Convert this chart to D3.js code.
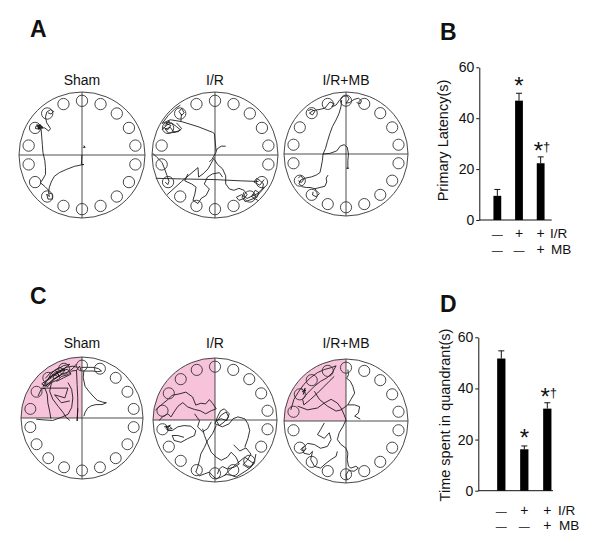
<!DOCTYPE html>
<html><head><meta charset="utf-8">
<script src="https://cdn.jsdelivr.net/npm/d3@7"></script>
<style>body{margin:0;background:#fff}svg{display:block}text{font-family:"Liberation Sans",Arial,sans-serif;fill:#111}</style>
</head><body><svg id="c" width="600" height="544"></svg>
<script>
// ---------- data ----------
const groups = ["Sham", "I/R", "I/R+MB"];
const latency = [9.5, 46.9, 22.3];
const latencyErr = [2.5, 2.9, 2.5];
const quadTime = [51.7, 16.2, 32.1];
const quadErr = [3.0, 1.3, 2.3];
const yTicks = [0, 20, 40, 60];
const irRow = ["\u2014", "+", "+"];
const mbRow = ["\u2014", "\u2014", "+"];
const starMark = ["", "*", "*"];
const daggerMark = ["", "", "\u2020"];
const holeAngles = [0, 20, 40, 60, 80, 100, 120, 140, 160, 180, 200, 220, 240, 260, 280, 300, 320, 340];

// trajectories, maze units (-100..100, y downward)
const shamA = [
  [[0,0],[-1,15],[3,15],[-2,16],[-12,18],[-25,23],[-36,28],[-44,34],[-49,43],[-52,52],[-53,59],[-52,66],[-56,62],[-54,70],[-47,70],[-47,62],[-53,60]],
  [[-52,57],[-59,50],[-66,44],[-62,38],[-58,31],[-58,20],[-59,9],[-62,-4],[-63,-17],[-64,-30],[-65,-41],[-67,-46],[-73,-46],[-74,-42],[-67,-41],[-72,-48],[-65,-47],[-62,-43],[-70,-43],[-59,-43],[-53,-38],[-50,-42],[-56,-51],[-58,-60],[-56,-68],[-50,-72],[-45,-69],[-49,-65],[-54,-67]],
  [[-71,-44],[-66,-48],[-69,-41],[-63,-45],[-70,-47]],
  [[4,-14],[2,-12],[5,-12],[3,-15]]
];
const irA = [
  [[-84,-50],[-71,-56],[-53,-53],[-27,-45],[-4,-36],[-1,-34],[0,-24],[1,-14],[2,-5],[-2,2],[-5,7],[-9,11]],
  [[1,-6],[5,-11],[10,-14],[17,-14]],
  [[-53,-65],[-54,-58],[-54,-53]],
  [[-57,-69],[-53,-74],[-49,-67],[-53,-63],[-57,-69]],
  [[-84,-40],[-76,-48],[-69,-51],[-61,-45],[-55,-40],[-63,-36],[-74,-35],[-79,-41],[-71,-44],[-66,-37],[-58,-37],[-53,-42],[-61,-51]],
  [[-82,-44],[-75,-40],[-70,-47],[-78,-50],[-72,-54],[-80,-46]],
  [[-84,-50],[-74,-63],[-63,-74],[-55,-79]],
  [[-99,-3],[-92,4],[-84,12],[-80,22],[-76,33],[-73,42],[-75,47],[-79,43]],
  [[-94,37],[-53,38],[-1,39],[41,41],[69,42]],
  [[-76,63],[-53,42],[-27,20],[-26,35],[-19,30],[-11,22],[-6,13],[-1,4]],
  [[-1,7],[4,15],[12,22],[17,33],[17,46],[23,54],[30,56],[38,53],[46,56],[51,63],[46,69],[38,72],[34,67],[42,63],[51,69],[59,65],[68,61],[75,54],[77,46],[72,41],[66,37],[62,43],[71,48],[78,39]],
  [[-43,30],[-48,41],[-37,46],[-30,51],[-32,62],[-35,72],[-27,77],[-22,69],[-14,64],[-9,54],[-17,46],[-12,35],[-4,30],[7,28],[12,35]],
  [[46,59],[43,67],[48,74],[62,69],[72,59],[79,51]],
  [[60,62],[66,68],[70,60],[64,56],[58,66],[68,72]]
];
const irmbA = [
  [[-61,-70],[-56,-72],[-50,-69],[-54,-63],[-59,-66],[-53,-70],[-42,-72],[-34,-74],[-30,-79],[-26,-84],[-19,-81],[-23,-76],[-16,-79],[-11,-86],[-4,-93],[2,-94],[5,-89],[0,-82],[6,-83],[13,-88],[20,-90],[25,-86],[23,-81],[17,-83]],
  [[-7,-87],[-8,-77],[-11,-66],[-16,-55],[-22,-44],[-26,-33],[-30,-20],[-33,-9],[-37,0],[-38,10],[-40,21],[-42,30],[-48,34],[-56,37],[-66,39],[-73,42],[-76,48],[-70,53],[-64,54],[-58,54],[-50,56],[-42,54],[-34,52],[-31,45],[-32,39],[-29,34]],
  [[-53,61],[-54,66],[-48,69],[-43,64],[-48,59],[-50,56]],
  [[-77,39],[-73,35],[-68,41],[-72,46],[-77,43]],
  [[-37,0],[-26,-1],[-15,-5],[-9,-13],[-3,-15],[2,-11],[4,0],[3,10],[3,23],[1,23],[5,23]]
];
const shamC = [
  [[-7,-83],[-15,-85],[-26,-83],[-34,-77],[-42,-72],[-50,-66],[-58,-61],[-64,-52],[-56,-55],[-48,-63],[-39,-68],[-31,-74],[-28,-79],[-37,-83],[-45,-78],[-51,-72],[-56,-63],[-61,-58],[-57,-51],[-50,-58],[-39,-63],[-34,-68],[-23,-71],[-17,-77],[-9,-78],[-4,-85],[-1,-77]],
  [[-60,-65],[-52,-74],[-40,-80],[-30,-86],[-20,-88],[-28,-82],[-38,-76],[-48,-70],[-58,-62],[-66,-56],[-60,-52],[-50,-60],[-42,-66],[-32,-72],[-22,-76],[-14,-82],[-10,-88]],
  [[-50,-58],[-53,-44],[-48,-31],[-39,-19],[-31,-9],[-26,-1],[-20,4]],
  [[-72,-36],[-67,-47],[-61,-49],[-57,-39],[-56,-25],[-53,-11],[-51,1]],
  [[-75,2],[-64,3],[-48,4],[-34,-1],[-23,-6],[-17,-17],[-15,-33],[-17,-47],[-23,-58]],
  [[-9,-78],[-8,-55],[-7,-33],[-7,-11],[-8,5],[-7,-16]],
  [[-1,-83],[7,-83],[18,-83],[27,-81],[32,-77],[25,-76],[18,-77],[10,-77],[3,-77],[2,-66],[5,-52],[11,-44],[18,-36],[25,-29],[34,-26],[40,-25],[33,-22],[23,-22],[15,-20],[9,-16],[5,-9],[3,-3]],
  [[-67,-49],[-39,-49],[-23,-49],[-28,-33],[-45,-38],[-34,-25],[-20,-28]],
  [[-30,-80],[-44,-75],[-53,-66],[-47,-70],[-36,-76],[-24,-80],[-18,-72],[-30,-66],[-42,-60]],
  [[-46,-72],[-40,-68],[-44,-64],[-38,-70],[-42,-76],[-36,-66]]
];
const irC = [
  [[4,1],[10,-8],[18,-13],[22,-5],[15,3],[7,9],[2,1],[10,-2],[19,1],[23,-10],[15,-18],[9,-15],[4,-5],[0,6],[12,11],[23,6],[29,-2],[37,-5],[48,-2],[53,6],[56,17],[53,30],[48,44]],
  [[-96,-16],[-87,-24],[-76,-33],[-69,-40],[-58,-42],[-47,-45],[-36,-37],[-31,-24],[-23,-27],[-15,-26],[-9,-33],[-4,-27],[2,-18],[-6,-15],[-15,-10],[-24,-15],[-33,-17],[-44,-21],[-52,-28],[-60,-22],[-66,-13],[-71,-5],[-76,-10],[-85,-5],[-90,1]],
  [[-79,9],[-76,17],[-69,17],[-60,11],[-50,9],[-39,10],[-31,17],[-33,25],[-44,30],[-55,36],[-66,33],[-69,25],[-60,25],[-50,28]],
  [[2,9],[-4,22],[-12,33],[-17,44],[-23,55],[-25,65],[-28,76],[-31,84],[-25,90],[-17,87],[-9,84],[-4,90],[2,95],[10,92],[18,88],[26,89],[34,92],[42,87],[50,82],[58,76],[64,65],[66,55]],
  [[-20,14],[-17,25],[-12,38],[-6,52],[2,60],[10,65],[20,60],[26,52],[34,60],[39,71],[31,76],[20,79],[12,75],[7,79],[4,87]],
  [[-33,-10],[-25,1],[-28,11],[-20,19],[-12,14],[-6,3]],
  [[30,40],[40,50],[50,45],[58,55],[52,65],[45,72],[55,78],[62,70],[48,60],[38,68],[30,75],[22,82],[15,90]],
  [[-82,11],[-74,10],[-69,14],[-78,15],[-72,8],[-80,13]]
];
const irmbC = [
  [[-89,-18],[-84,-35],[-76,-48],[-68,-59],[-57,-70],[-46,-78],[-35,-83],[-24,-86],[-16,-89],[-22,-78],[-30,-70],[-41,-64],[-51,-56],[-62,-45],[-70,-35],[-68,-26],[-57,-35],[-46,-45],[-35,-56],[-27,-64],[-19,-72]],
  [[-72,-53],[-68,-48],[-66,-53],[-69,-43],[-65,-50],[-71,-47]],
  [[-78,-24],[-62,-18],[-46,-21],[-35,-29],[-24,-35],[-14,-29],[-8,-21],[-3,-10],[0,-2]],
  [[-51,-48],[-43,-35],[-30,-24],[-16,-16],[-8,-18],[3,-26],[14,-26],[22,-23],[20,-13],[14,-8],[23,-3]],
  [[0,-70],[7,-64],[11,-56],[14,-45],[8,-35],[3,-26]],
  [[3,-83],[4,-75],[2,-70]],
  [[0,-2],[-5,9],[-11,19],[-14,30],[-8,38],[0,44],[3,52],[2,62],[4,73],[8,76],[16,73],[20,76],[13,81],[4,80],[0,87],[2,95]],
  [[-35,3],[-41,14],[-46,22],[-35,28],[-27,19],[-24,30],[-30,41],[-41,44],[-51,38],[-62,36],[-70,44],[-68,52],[-59,54],[-54,49],[-57,62],[-51,73],[-41,76],[-32,68],[-24,62],[-16,57],[-14,49]],
  [[-68,41],[-73,46],[-68,49],[-64,44]]
];

// ---------- drawing ----------
const svg = d3.select("#c");
const holeRing = 86, holeR = 9;

function maze(cx, cy, r, title, titleY, paths, pink) {
  const g = svg.append("g");
  const sx = d3.scaleLinear().domain([-100, 100]).range([cx - r, cx + r]);
  const sy = d3.scaleLinear().domain([-100, 100]).range([cy - r, cy + r]);
  if (pink) {
    g.append("path").attr("transform", `translate(${cx},${cy})`)
      .attr("d", d3.arc()({innerRadius: 0, outerRadius: r, startAngle: -Math.PI / 2, endAngle: 0}))
      .attr("fill", "#f6c3da");
  }
  const line = d3.line().x(d => sx(d[0])).y(d => sy(d[1]));
  paths.forEach(p => g.append("path").attr("d", line(p)).attr("fill", "none")
    .attr("stroke", "#111").attr("stroke-width", 0.85).attr("stroke-linejoin", "round"));
  g.append("line").attr("x1", sx(-100)).attr("x2", sx(100)).attr("y1", sy(0)).attr("y2", sy(0))
    .attr("stroke", "#222").attr("stroke-width", 0.8);
  g.append("line").attr("x1", sx(0)).attr("x2", sx(0)).attr("y1", sy(-100)).attr("y2", sy(100))
    .attr("stroke", "#222").attr("stroke-width", 0.8);
  holeAngles.forEach(a => {
    const t = a * Math.PI / 180;
    g.append("circle").attr("cx", sx(holeRing * Math.sin(t))).attr("cy", sy(-holeRing * Math.cos(t)))
      .attr("r", sx(holeR) - sx(0)).attr("fill", "none").attr("stroke", "#333").attr("stroke-width", 0.9);
  });
  g.append("circle").attr("cx", cx).attr("cy", cy).attr("r", r)
    .attr("fill", "none").attr("stroke", "#333").attr("stroke-width", 0.9);
  svg.append("text").attr("x", cx).attr("y", titleY).attr("text-anchor", "middle")
    .attr("font-size", 14).text(title);
}

const mazeX = [82, 215, 346];
maze(mazeX[0], 155, 63, groups[0], 85, shamA, false);
maze(mazeX[1], 155, 63, groups[1], 85, irA, false);
maze(mazeX[2], 154, 62, groups[2], 85, irmbA, false);
maze(mazeX[0], 418, 61, groups[0], 348, shamC, true);
maze(mazeX[1], 420, 62, groups[1], 348, irC, true);
maze(mazeX[2], 421, 62, groups[2], 348, irmbC, true);

function signSize(s) { return s === "+" ? 14 : 11; }

function barPanel(o) {
  const y = d3.scaleLinear().domain([0, 60]).range([o.y0, o.y60]);
  const x = d3.scaleBand().domain(groups).range(o.xr).paddingInner(0.64).paddingOuter(0.32);
  const bw = x.bandwidth();
  const ax = svg.append("g").attr("transform", `translate(${o.axX},0)`)
    .call(d3.axisLeft(y).tickValues(yTicks).tickSize(3).tickPadding(2).tickSizeOuter(0));
  ax.select(".domain").attr("stroke", "#111").attr("stroke-width", 1);
  ax.selectAll(".tick line").attr("stroke", "#111");
  ax.selectAll(".tick text").attr("font-size", 14).attr("font-family", '"Liberation Sans",Arial,sans-serif').attr("fill", "#111");
  svg.append("line").attr("x1", o.axX).attr("x2", o.axEnd).attr("y1", y(0)).attr("y2", y(0))
    .attr("stroke", "#111").attr("stroke-width", 1);
  groups.forEach((gname, i) => {
    const xc = x(gname) + bw / 2;
    const top = y(o.vals[i] + o.errs[i]);
    svg.append("line").attr("x1", xc).attr("x2", xc).attr("y1", y(o.vals[i])).attr("y2", top)
      .attr("stroke", "#111").attr("stroke-width", 1);
    svg.append("line").attr("x1", xc - 3).attr("x2", xc + 3).attr("y1", top).attr("y2", top)
      .attr("stroke", "#111").attr("stroke-width", 1);
    svg.append("rect").attr("x", x(gname)).attr("width", bw).attr("y", y(o.vals[i]))
      .attr("height", y(0) - y(o.vals[i])).attr("fill", "#000");
    if (starMark[i]) {
      const sxp = daggerMark[i] ? xc - 2.2 : xc;
      svg.append("text").attr("x", sxp).attr("y", top + (daggerMark[i] ? 2 : 0.5)).attr("text-anchor", "middle")
        .attr("font-size", 24).text(starMark[i]);
    }
    if (daggerMark[i]) {
      svg.append("text").attr("x", xc + 6).attr("y", top - 6).attr("text-anchor", "middle")
        .attr("font-size", 13).text(daggerMark[i]);
    }
    svg.append("text").attr("x", xc).attr("y", o.row1).attr("text-anchor", "middle")
      .attr("font-size", signSize(irRow[i])).text(irRow[i]);
    svg.append("text").attr("x", xc).attr("y", o.row2).attr("text-anchor", "middle")
      .attr("font-size", signSize(mbRow[i])).text(mbRow[i]);
  });
  svg.append("text").attr("x", o.lblX).attr("y", o.row1).attr("font-size", 13.5).text("I/R");
  svg.append("text").attr("x", o.lblX + 1).attr("y", o.row2).attr("font-size", 13.5).text("MB");
  svg.append("text").attr("transform", `translate(${o.ylX},${o.ylY}) rotate(-90)`)
    .attr("text-anchor", "middle").attr("dy", "0.35em").attr("font-size", 14.5).text(o.ylabel);
}

barPanel({y0: 220, y60: 67.3, xr: [486.5, 551.5], axX: 479.3, axEnd: 551.7, vals: latency, errs: latencyErr,
  row1: 237.5, row2: 254, lblX: 550, ylX: 443, ylY: 140.5, ylabel: "Primary Latency(s)"});
barPanel({y0: 490.7, y60: 337.3, xr: [489.8, 558.8], axX: 478.3, axEnd: 553, vals: quadTime, errs: quadErr,
  row1: 515, row2: 530, lblX: 558, ylX: 445, ylY: 415, ylabel: "Time spent in quandrant(s)"});

// panel letters
[["A", 30, 37], ["B", 440, 40], ["C", 30, 304], ["D", 440, 312]].forEach(d => {
  svg.append("text").attr("x", d[1]).attr("y", d[2]).attr("font-size", 23).attr("font-weight", "bold").text(d[0]);
});
</script></body></html>
